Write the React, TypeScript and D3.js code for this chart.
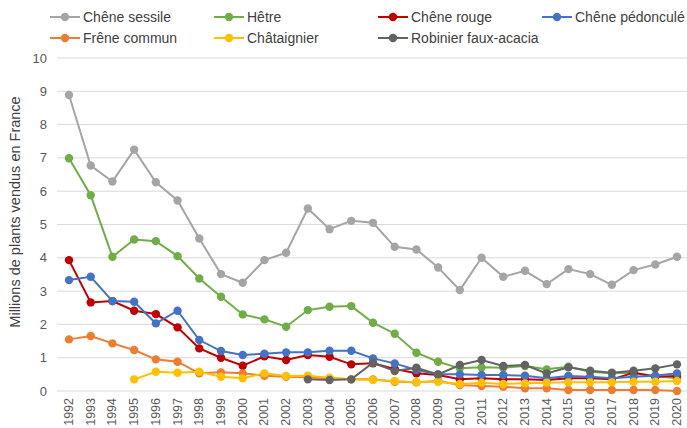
import React from 'react';
import * as d3 from 'd3';

const years = d3.range(1992, 2021).map(String);
const yTicks = [0, 1, 2, 3, 4, 5, 6, 7, 8, 9, 10];

const sessile = [8.89, 6.77, 6.29, 7.25, 6.27, 5.72, 4.58, 3.51, 3.25, 3.93, 4.15, 5.48, 4.86, 5.11, 5.05, 4.33, 4.25, 3.71, 3.03, 4.0, 3.43, 3.61, 3.21, 3.66, 3.51, 3.19, 3.63, 3.8, 4.03];
const hetre = [6.99, 5.88, 4.03, 4.55, 4.5, 4.05, 3.38, 2.83, 2.3, 2.15, 1.93, 2.43, 2.53, 2.55, 2.05, 1.72, 1.15, 0.88, 0.68, 0.71, 0.7, 0.75, 0.65, 0.73, 0.58, 0.53, 0.55, 0.45, 0.38];
const rouge = [3.93, 2.66, 2.7, 2.41, 2.31, 1.91, 1.28, 1.0, 0.76, 1.04, 0.93, 1.08, 1.03, 0.8, 0.83, 0.66, 0.53, 0.48, 0.35, 0.38, 0.35, 0.35, 0.33, 0.38, 0.38, 0.35, 0.55, 0.43, 0.45];
const pedoncule = [3.33, 3.43, 2.7, 2.68, 2.03, 2.41, 1.53, 1.2, 1.08, 1.12, 1.16, 1.16, 1.21, 1.21, 0.98, 0.83, 0.63, 0.5, 0.5, 0.48, 0.48, 0.46, 0.38, 0.45, 0.43, 0.38, 0.43, 0.46, 0.53];
const frene = [1.55, 1.65, 1.43, 1.23, 0.95, 0.88, 0.53, 0.56, 0.53, 0.46, 0.43, 0.41, 0.38, 0.35, 0.35, 0.28, 0.26, 0.3, 0.18, 0.15, 0.13, 0.08, 0.08, 0.03, 0.03, 0.03, 0.03, 0.03, 0.0];
const chataignier = [null, null, null, 0.35, 0.58, 0.55, 0.58, 0.43, 0.38, 0.53, 0.45, 0.46, 0.4, 0.35, 0.33, 0.3, 0.26, 0.28, 0.21, 0.25, 0.21, 0.23, 0.25, 0.26, 0.26, 0.26, 0.28, 0.28, 0.3];
const robinier = [null, null, null, null, null, null, null, null, null, null, null, 0.35, 0.33, 0.35, 0.85, 0.6, 0.7, 0.5, 0.78, 0.93, 0.75, 0.78, 0.53, 0.71, 0.61, 0.55, 0.61, 0.68, 0.8];

const series = [
  { name: 'Chêne sessile', color: '#a5a5a5', values: sessile },
  { name: 'Hêtre', color: '#70ad47', values: hetre },
  { name: 'Chêne rouge', color: '#c00000', values: rouge },
  { name: 'Chêne pédonculé', color: '#4472c4', values: pedoncule },
  { name: 'Frêne commun', color: '#ed7d31', values: frene },
  { name: 'Châtaignier', color: '#ffc000', values: chataignier },
  { name: 'Robinier faux-acacia', color: '#636363', values: robinier },
];

const font = '"Liberation Sans", Arial, sans-serif';

const App = () => {
  const width = 687, height = 428;
  const plotLeft = 57, plotRight = 687;

  const x = d3.scalePoint().domain(years).range([69, 677]);
  const y = d3.scaleLinear().domain([0, 10]).range([391, 58]);

  const line = d3.line<number | null>()
    .defined(d => d != null)
    .x((_, i) => x(years[i]) as number)
    .y(d => y(d as number));

  // legend in two rows of four columns
  const legendX = (i: number) => 50 + (i % 4) * 164;
  const legendY = (i: number) => (i < 4 ? 17 : 38);

  return (
    <svg width={width} height={height} style={{ position: 'absolute', left: 0, top: 0, background: '#fff' }}>
      {yTicks.map(t => (
        <g key={t}>
          <line x1={plotLeft} x2={plotRight} y1={y(t)} y2={y(t)} stroke="#d9d9d9" strokeWidth={1} />
          <text x={47} y={y(t)} dy="0.35em" textAnchor="end" fontFamily={font} fontSize={13} fill="#595959">{t}</text>
        </g>
      ))}
      {years.map(yr => (
        <text key={yr} transform={`translate(${(x(yr) as number) + 4},${398}) rotate(-90)`} textAnchor="end"
          fontFamily={font} fontSize={12.5} fill="#595959">{yr}</text>
      ))}
      <text transform={`translate(20,${212}) rotate(-90)`} textAnchor="middle" fontFamily={font} fontSize={14.5} fill="#404040">
        Millions de plants vendus en France
      </text>
      {series.map(s => (
        <g key={s.name}>
          <path d={line(s.values) || ''} fill="none" stroke={s.color} strokeWidth={2} />
          {s.values.map((v, i) => v == null ? null : (
            <circle key={i} cx={x(years[i])} cy={y(v)} r={4.2} fill={s.color} />
          ))}
        </g>
      ))}
      {series.map((s, i) => (
        <g key={s.name} transform={`translate(${legendX(i)},${legendY(i)})`}>
          <line x1={0} x2={30} y1={0} y2={0} stroke={s.color} strokeWidth={2} />
          <circle cx={15} cy={0} r={4.2} fill={s.color} />
          <text x={33} y={0} dy="0.35em" fontFamily={font} fontSize={14} fill="#404040">{s.name}</text>
        </g>
      ))}
    </svg>
  );
};

export default App;
